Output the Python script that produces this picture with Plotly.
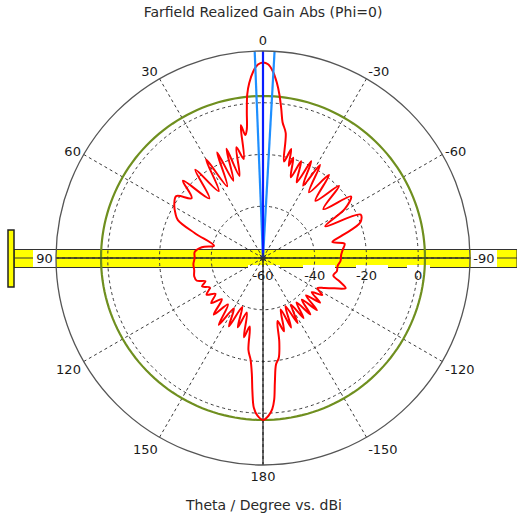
import plotly.graph_objects as go

# ---------------- data ----------------
THETA_DEG = [
    -180, -178, -176.5, -175.5, -174.5, -173, -171, -169, -167, -164, -161, -158, -155,
    -152, -149, -146, -143, -140, -137, -134, -131, -128, -125, -122, -119, -116, -113,
    -110, -107, -104, -100, -96, -92, -88, -84, -80, -77, -74, -70, -66, -63, -59, -55,
    -51, -46.5, -42.5, -38.5, -35, -31.5, -29, -26.5, -24, -21.5, -19, -16.8, -15.6,
    -14.5, -12.3, -10.3, -8.2, -7, -5.7, -4.5, -3, -1.5, 0,
    1.5, 3, 4.5, 5.5, 6.3, 7.2, 8.2, 9.5, 11, 13.5, 16, 18.5, 21, 23.5, 26.5, 30, 33.5,
    37.5, 42, 46, 50, 54.5, 59, 63, 66, 70, 76, 80, 85, 90,
    95, 100, 105, 109, 112, 115, 119, 123, 127, 131, 135, 139, 143, 146.5, 150, 153.5,
    157, 160, 163.5, 166.5, 169, 171, 173, 174.5, 175.5, 176.5, 178, 180,
]
GAIN_DBI = [
    2.6, 1.0, -1.5, -5, -12, -18.6, -21, -27, -35, -30.5, -39, -31, -39.5,
    -31.5, -39, -32, -38.5, -31.5, -38, -31, -38, -32, -37, -33, -36, -33.5, -30,
    -26, -29, -32, -31, -31, -30, -29.8, -29, -28, -32.5, -28, -20, -18.7, -33, -23, -18.5,
    -30, -19.5, -30, -19, -29, -17.8, -28, -18.2, -28, -19.8, -27, -19.5, -23,
    -16.5, -21.8, -10.9, -7, -2, 3.6, 8, 12.3, 14.9, 15.6,
    14.8, 12.2, 7.8, 3.5, -3, -10, -12, -8, -21, -16, -27, -15.5, -28, -15.5, -29, -16, -29,
    -17, -29, -17, -24, -18.8, -20, -22, -24, -32, -40.5, -36, -33.5, -33.6,
    -33, -33, -32.5, -33, -36, -34, -36.5, -34, -37, -33.5, -37.5, -31, -37.5, -29, -37.5, -30.5,
    -39.5, -31.5, -38, -28.5, -33, -24, -20.5, -15, -8, -2, 1.0, 2.6,
]
MAIN_LOBE_DIRECTION = 0.0
BEAMWIDTH_EDGES = [2.3, -3.2]
SIDE_LOBE_LEVEL = 2.6
R_RANGE = [-60, 20]
RADIAL_TICKS = [-60, -40, -20, 0]
RADIAL_TICKTEXT = ["-60", "-40", "-20", "0"]
ANGLE_TICKVALS = [0, 30, 60, 90, 120, 150, 180, 210, 240, 270, 300, 330]
ANGLE_TICKTEXT = ["0", "30", "60", "90", "120", "150", "180",
                  "-150", "-120", "-90", "-60", "-30"]
CIRCLE_THETA = list(range(0, 361, 2))

W, H = 517, 516
FONT = "DejaVu Sans"
GRID_DASH = "3px,3px"

fig = go.Figure()

fig.add_trace(go.Scatterpolar(
    theta=CIRCLE_THETA, r=[SIDE_LOBE_LEVEL] * len(CIRCLE_THETA), mode="lines",
    line=dict(color="#6f8f1f", width=2.2), hoverinfo="skip", showlegend=False))

fig.add_trace(go.Scatterpolar(
    theta=[ANGLE_TICKVALS[3], ANGLE_TICKVALS[3], ANGLE_TICKVALS[9]],
    r=[R_RANGE[1], R_RANGE[0], R_RANGE[1]], mode="lines",
    line=dict(color="#222222", width=1), hoverinfo="skip", showlegend=False))
fig.add_trace(go.Scatterpolar(
    theta=[ANGLE_TICKVALS[6], ANGLE_TICKVALS[6]], r=R_RANGE, mode="lines",
    line=dict(color="#111111", width=1.2), hoverinfo="skip", showlegend=False))

fig.add_trace(go.Scatterpolar(
    theta=THETA_DEG, r=GAIN_DBI, mode="lines",
    line=dict(color="#ff0000", width=2, shape="spline", smoothing=1.0), showlegend=False))

for t in BEAMWIDTH_EDGES:
    fig.add_trace(go.Scatterpolar(
        theta=[t, t], r=R_RANGE, mode="lines",
        line=dict(color="#1e8fff", width=2.2), hoverinfo="skip", showlegend=False))

fig.add_trace(go.Scatterpolar(
    theta=[MAIN_LOBE_DIRECTION, MAIN_LOBE_DIRECTION], r=R_RANGE, mode="lines",
    line=dict(color="#0a1eff", width=2.2), hoverinfo="skip", showlegend=False))

fig.add_trace(go.Scatterpolar(
    theta=[0], r=[R_RANGE[0]], mode="markers",
    marker=dict(symbol="asterisk-open", size=8, color="#333333",
                line=dict(color="#333333", width=1)),
    hoverinfo="skip", showlegend=False))

R = 207
cx, cy = 263, 258
fig.update_layout(
    width=W, height=H, autosize=False,
    margin=dict(l=0, r=0, t=0, b=0),
    paper_bgcolor="white",
    font=dict(family=FONT, size=13, color="#1a1a1a"),
    title=dict(text="Farfield Realized Gain Abs (Phi=0)", x=cx / W, xanchor="center",
               y=1 - 12 / H, yanchor="middle", yref="container",
               font=dict(family=FONT, size=14, color="#2a2a2a")),
    polar=dict(
        domain=dict(x=[(cx - R) / W, (cx + R) / W], y=[(H - cy - R) / H, (H - cy + R) / H]),
        bgcolor="rgba(0,0,0,0)",
        angularaxis=dict(
            direction="counterclockwise", rotation=90, thetaunit="degrees",
            tickmode="array", tickvals=ANGLE_TICKVALS, ticktext=ANGLE_TICKTEXT,
            showline=True, linecolor="#555555", linewidth=1.3,
            showgrid=True, gridcolor="#3a3a3a", gridwidth=1, griddash=GRID_DASH,
            ticks="", tickfont=dict(size=13)),
        radialaxis=dict(
            range=R_RANGE, tickmode="array", tickvals=RADIAL_TICKS, ticktext=RADIAL_TICKTEXT,
            angle=0, side="clockwise", showline=False,
            ticks="outside", ticklen=6, tickcolor="rgba(0,0,0,0)",
            showgrid=True, gridcolor="#3a3a3a", gridwidth=1, griddash=GRID_DASH,
            tickfont=dict(size=13)),
    ),
    annotations=[dict(text="Theta / Degree vs. dBi", x=cx / W, y=(H - 505) / H,
                      xref="paper", yref="paper", showarrow=False,
                      xanchor="center", yanchor="middle",
                      font=dict(family=FONT, size=14, color="#2a2a2a"))],
)

def px_rect(x0, y0, x1, y1, fill, line_color=None, line_width=0):
    return dict(type="rect", xref="paper", yref="paper", layer="below",
                x0=x0 / W, x1=x1 / W, y0=(H - y1) / H, y1=(H - y0) / H,
                fillcolor=fill,
                line=dict(color=line_color or fill, width=line_width))

shapes = [
    px_rect(14, 249.5, 517, 267.5, "#ffff00", "#333333", 1),
    px_rect(8, 230, 14, 287, "#ffff00", "#222222", 1.5),
    dict(type="line", xref="paper", yref="paper", layer="below",
         x0=14 / W, x1=1, y0=(H - 258) / H, y1=(H - 258) / H,
         line=dict(color="#333333", width=1)),
    px_rect(33, 250, 56, 267, "white"),
    px_rect(471, 250, 497, 267, "white"),
    px_rect(248, 265, 280, 280, "white"),
    px_rect(303, 265, 335, 280, "white"),
    px_rect(356, 265, 388, 280, "white"),
    px_rect(407, 265, 430, 280, "white"),
]
fig.update_layout(shapes=shapes)

fig.write_html("out.html", config={"displayModeBar": False},
               post_script="document.body.style.margin='0';")
